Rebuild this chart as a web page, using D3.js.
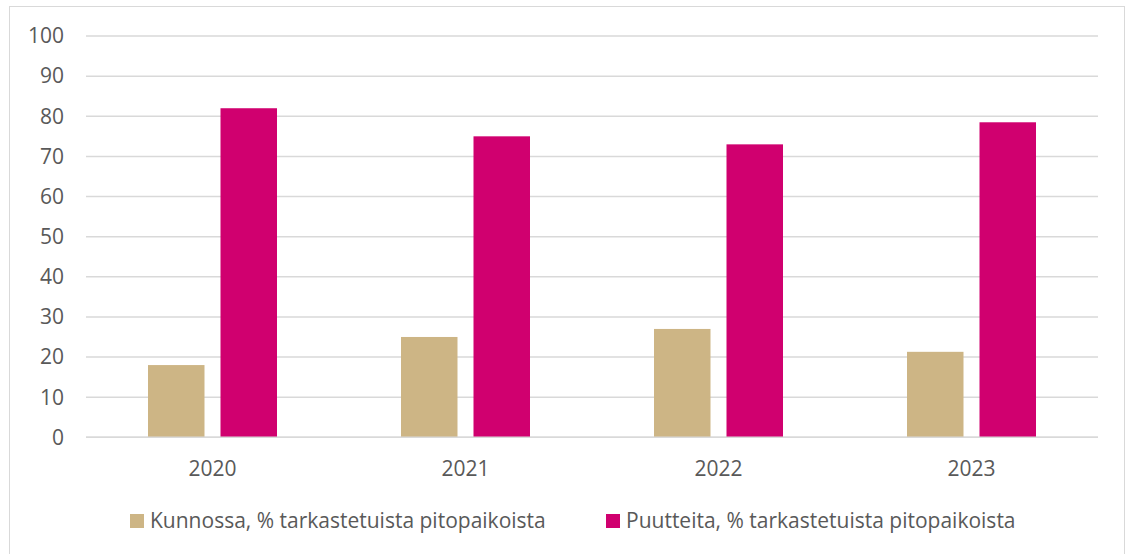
<!DOCTYPE html>
<html>
<head>
<meta charset="utf-8">
<script src="https://cdn.jsdelivr.net/npm/d3@7"></script>
<style>
  body { margin: 0; background: #fff; }
  text { font-family: "Open Sans", "Noto Sans", sans-serif; fill: #595959; }
</style>
</head>
<body>
<svg id="chart" width="1127" height="554"></svg>
<script>

var years = ['2020', '2021', '2022', '2023'];
var kunnossa = [18, 25, 27, 21.3];
var puutteita = [82, 75, 73, 78.5];
var seriesNames = ['Kunnossa, % tarkastetuista pitopaikoista', 'Puutteita, % tarkastetuista pitopaikoista'];
var yTicks = [0, 10, 20, 30, 40, 50, 60, 70, 80, 90, 100];

var colors = ['#cdb585', '#d0006f'];

var svg = d3.select('#chart');

// outer frame
svg.append('rect')
	.attr('x', 9.5)
	.attr('y', 6.5)
	.attr('width', 1115)
	.attr('height', 560)
	.attr('fill', 'none')
	.attr('stroke', '#d9d9d9');

var plotLeft = 86, plotRight = 1098, plotTop = 36, plotBottom = 437.3;
var fs = 21;

var x = d3.scaleBand()
	.domain(years)
	.range([plotLeft, plotRight]);

var y = d3.scaleLinear()
	.domain([0, 100])
	.range([plotBottom, plotTop]);

// gridlines
svg.selectAll('line.grid')
	.data(yTicks)
	.enter()
	.append('line')
	.attr('class', 'grid')
	.attr('x1', plotLeft)
	.attr('x2', plotRight)
	.attr('y1', function (d) { return y(d); })
	.attr('y2', function (d) { return y(d); })
	.attr('stroke', '#d9d9d9')
	.attr('stroke-width', 1.5);

// y labels
svg.selectAll('text.ylab')
	.data(yTicks)
	.enter()
	.append('text')
	.attr('class', 'ylab')
	.attr('x', 64)
	.attr('y', function (d) { return y(d); })
	.attr('dy', '0.35em')
	.attr('text-anchor', 'end')
	.attr('font-size', fs)
	.text(function (d) { return d; });

var barW = 56.5;
var gap = 16;

var data = years.map(function (yr, i) {
	return { year: yr, vals: [kunnossa[i], puutteita[i]] };
});

var groups = svg.selectAll('g.grp')
	.data(data)
	.enter()
	.append('g')
	.attr('class', 'grp');

groups.selectAll('rect')
	.data(function (d) {
		return d.vals.map(function (v, j) { return { year: d.year, v: v, j: j }; });
	})
	.enter()
	.append('rect')
	.attr('x', function (d) {
		var c = x(d.year) + x.bandwidth() / 2;
		return d.j === 0 ? c - gap / 2 - barW : c + gap / 2;
	})
	.attr('y', function (d) { return y(d.v); })
	.attr('width', barW)
	.attr('height', function (d) { return plotBottom - y(d.v); })
	.attr('fill', function (d) { return colors[d.j]; });

// baseline redrawn over bars
svg.append('line')
	.attr('x1', plotLeft)
	.attr('x2', plotRight)
	.attr('y1', y(0))
	.attr('y2', y(0))
	.attr('stroke', '#d9d9d9')
	.attr('stroke-width', 1.5);

// x labels
svg.selectAll('text.xlab')
	.data(years)
	.enter()
	.append('text')
	.attr('class', 'xlab')
	.attr('x', function (d) { return x(d) + x.bandwidth() / 2; })
	.attr('y', 476)
	.attr('text-anchor', 'middle')
	.attr('font-size', fs)
	.text(function (d) { return d; });

// legend
var legX = [130, 606];
var legend = svg.selectAll('g.leg')
	.data(seriesNames)
	.enter()
	.append('g')
	.attr('class', 'leg')
	.attr('transform', function (d, i) { return 'translate(' + legX[i] + ',0)'; });

legend.append('rect')
	.attr('x', 0)
	.attr('y', 514)
	.attr('width', 14)
	.attr('height', 14)
	.attr('fill', function (d, i) { return colors[i]; });

legend.append('text')
	.attr('x', 20)
	.attr('y', 528)
	.attr('font-size', fs)
	.text(function (d) { return d; });

</script>
</body>
</html>
